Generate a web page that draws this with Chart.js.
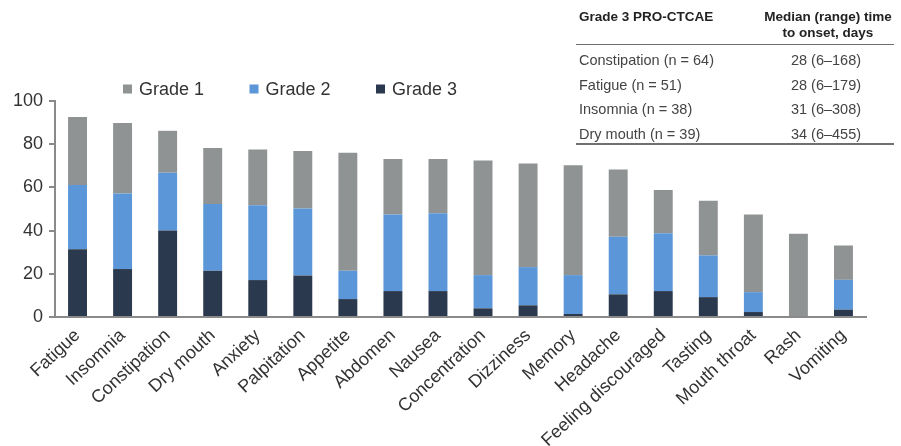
<!DOCTYPE html>
<html>
<head>
<meta charset="utf-8">
<script src="https://cdn.jsdelivr.net/npm/chart.js@4"></script>
<style>
  html, body { margin: 0; padding: 0; background: #fff; }
  #wrap { position: relative; width: 901px; height: 446px; overflow: hidden; }
  #c { position: absolute; left: 0; top: 0; }
  #tbl { position: absolute; left: 576px; top: 0; width: 318px; height: 150px;
         font-family: "Liberation Sans", Arial, sans-serif; color: #444; }
  .hd { position: absolute; font-weight: bold; font-size: 13.5px; line-height: 16px; color: #222; white-space: nowrap; }
  .cell { position: absolute; font-size: 14.5px; line-height: 18px; white-space: nowrap; }
  .ctr { text-align: center; transform: translateX(-50%); }
  .rule { position: absolute; left: 0; width: 318px; background: #707070; }
</style>
</head>
<body>
<div id="wrap">
  <canvas id="c" width="901" height="446"></canvas>
  <div id="tbl"></div>
</div>
<script>
// Symptoms, ordered by overall frequency (%)
const categories = ['Fatigue', 'Insomnia', 'Constipation', 'Dry mouth', 'Anxiety', 'Palpitation',
  'Appetite', 'Abdomen', 'Nausea', 'Concentration', 'Dizziness', 'Memory', 'Headache',
  'Feeling discouraged', 'Tasting', 'Mouth throat', 'Rash', 'Vomiting'];

// Share of patients per worst grade (%), stacked Grade 3 -> Grade 2 -> Grade 1
const grade3 = [31.4, 22.2, 40.0, 21.4, 17.1, 19.2, 8.3, 12.0, 12.0, 4.0, 5.4, 1.4, 10.5, 12.0, 9.2, 2.3, 0.0, 3.4];
const grade2 = [29.7, 35.0, 26.8, 30.9, 34.6, 31.0, 13.1, 35.5, 36.0, 15.4, 17.7, 18.0, 26.7, 26.8, 19.3, 9.2, 0.0, 13.8];
const grade1 = [31.5, 32.6, 19.4, 25.9, 25.8, 26.6, 54.6, 25.7, 25.2, 53.1, 48.0, 50.9, 31.1, 20.0, 25.3, 35.9, 38.5, 15.9];

const seriesNames = ['Grade 1', 'Grade 2', 'Grade 3'];
const yTicks = [0, 20, 40, 60, 80, 100];

// Time-to-onset summary for Grade 3 events
const tableHeader = ['Grade 3 PRO-CTCAE', 'Median (range) time', 'to onset, days'];
const tableSymptoms = ['Constipation (n = 64)', 'Fatigue (n = 51)', 'Insomnia (n = 38)', 'Dry mouth (n = 39)'];
const tableOnset = ['28 (6–168)', '28 (6–179)', '31 (6–308)', '34 (6–455)'];

const colors = { 'Grade 1': '#8f9394', 'Grade 2': '#5b97d8', 'Grade 3': '#2b394e' };
const FONT = '"Liberation Sans", Arial, Helvetica, sans-serif';
const AXIS = '#8a8a8a';

// ---- summary table (HTML overlay, top right) ----
(function buildTable() {
  const t = document.getElementById('tbl');
  const add = (cls, txt, css) => {
    const d = document.createElement('div');
    d.className = cls;
    if (txt !== null) d.innerHTML = txt;
    Object.assign(d.style, css);
    t.appendChild(d);
  };
  add('hd', tableHeader[0], { left: '3px', top: '9px' });
  add('hd ctr', tableHeader[1] + '<br>' + tableHeader[2], { left: '252px', top: '9px' });
  add('rule', null, { top: '44px', height: '1px' });
  const centers = [60, 84.5, 109, 133.5];
  tableSymptoms.forEach((s, i) => {
    add('cell', s, { left: '3px', top: (centers[i] - 9) + 'px' });
    add('cell ctr', tableOnset[i], { left: '250px', top: (centers[i] - 9) + 'px' });
  });
  add('rule', null, { top: '143px', height: '2px' });
})();

// ---- legend drawn on the canvas (Grade 1, Grade 2, Grade 3 left to right) ----
const legendPlugin = {
  id: 'gradeLegend',
  afterDraw(chart) {
    const ctx = chart.ctx;
    ctx.save();
    ctx.font = '18px ' + FONT;
    ctx.textBaseline = 'middle';
    ctx.textAlign = 'left';
    const items = chart.data.datasets.slice().reverse();
    items.forEach((ds, i) => {
      const x = 123 + i * 126.5;
      const y = 89;
      ctx.fillStyle = ds.backgroundColor;
      ctx.fillRect(x, y - 4.5, 9, 9);
      ctx.fillStyle = '#333';
      ctx.fillText(ds.label, x + 16, y + 1);
    });
    ctx.restore();
  }
};

const seriesData = { 'Grade 1': grade1, 'Grade 2': grade2, 'Grade 3': grade3 };
const datasets = seriesNames.slice().reverse().map(name => ({
  label: name,
  data: seriesData[name],
  backgroundColor: colors[name],
  borderWidth: 0,
  barPercentage: 0.42,
  categoryPercentage: 1.0
}));

new Chart(document.getElementById('c'), {
  type: 'bar',
  data: { labels: categories, datasets },
  plugins: [legendPlugin],
  options: {
    responsive: false,
    animation: false,
    devicePixelRatio: 1,
    layout: { padding: { left: 13, right: 35, top: 101, bottom: 0 } },
    plugins: { legend: { display: false }, tooltip: { enabled: false } },
    scales: {
      x: {
        stacked: true,
        grid: { display: false, drawTicks: false },
        border: { display: true, color: AXIS, width: 2 },
        ticks: {
          autoSkip: false, minRotation: 43, maxRotation: 43, padding: 8,
          color: '#333', font: { family: FONT, size: 18 }
        },
        afterFit(scale) { scale.height = 129; }
      },
      y: {
        stacked: true,
        min: 0, max: 100,
        afterBuildTicks(scale) { scale.ticks = yTicks.map(v => ({ value: v })); },
        grid: { drawOnChartArea: false, drawTicks: true, tickLength: 6, color: AXIS, lineWidth: 2 },
        border: { display: true, color: AXIS, width: 2 },
        ticks: { padding: 6, color: '#333', font: { family: FONT, size: 18 } },
        afterFit(scale) { scale.width = 42; }
      }
    }
  }
});
</script>
</body>
</html>
